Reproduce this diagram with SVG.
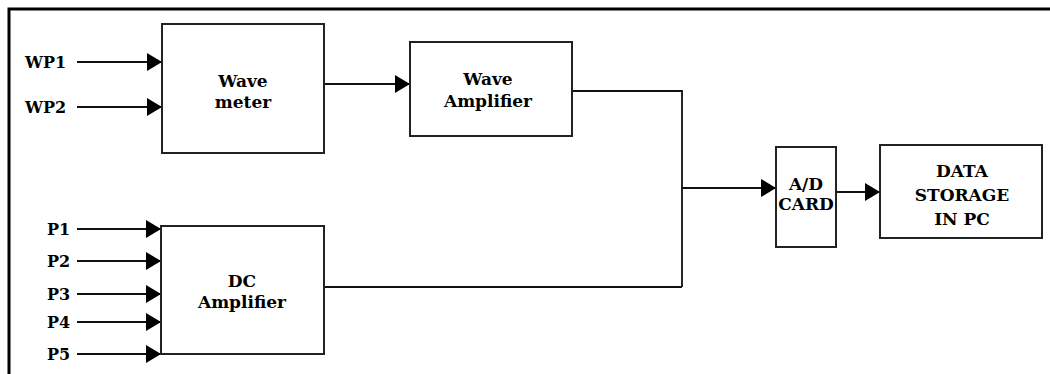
<svg xmlns="http://www.w3.org/2000/svg" width="1050" height="374" viewBox="0 0 1050 374">
<style>
.box{fill:#fff;stroke:#222;stroke-width:2}
.ln{fill:none;stroke:#111;stroke-width:1.8}
.t{font-family:"DejaVu Serif","Liberation Serif",serif;font-weight:bold;font-size:17px;fill:#000;text-anchor:middle}
.lb{font-family:"DejaVu Serif","Liberation Serif",serif;font-weight:bold;font-size:16px;fill:#000}
</style>
<defs>
<marker id="ah" markerUnits="userSpaceOnUse" markerWidth="15" markerHeight="18" refX="15" refY="9" orient="auto">
<path d="M0,0 L15,9 L0,18 z" fill="#000"/>
</marker>
</defs>
<rect width="1050" height="374" fill="#fff"/>
<path d="M1050,9 H9 V374" fill="none" stroke="#000" stroke-width="3"/>
<g id="connectors">
<line class="ln" x1="77" y1="62" x2="162" y2="62" marker-end="url(#ah)"/>
<line class="ln" x1="77" y1="107" x2="162" y2="107" marker-end="url(#ah)"/>
<line class="ln" x1="77" y1="229" x2="161" y2="229" marker-end="url(#ah)"/>
<line class="ln" x1="77" y1="261" x2="161" y2="261" marker-end="url(#ah)"/>
<line class="ln" x1="77" y1="294" x2="161" y2="294" marker-end="url(#ah)"/>
<line class="ln" x1="77" y1="322" x2="161" y2="322" marker-end="url(#ah)"/>
<line class="ln" x1="77" y1="354" x2="161" y2="354" marker-end="url(#ah)"/>
<line class="ln" x1="324" y1="84" x2="410" y2="84" marker-end="url(#ah)"/>
<polyline class="ln" points="572,91 682,91 682,287"/>
<polyline class="ln" points="324,287 682,287"/>
<line class="ln" x1="682" y1="188" x2="776" y2="188" marker-end="url(#ah)"/>
<line class="ln" x1="836" y1="192" x2="880" y2="192" marker-end="url(#ah)"/>
</g>
<g id="labels">
<text class="lb" x="25" y="68">WP1</text>
<text class="lb" x="25" y="113">WP2</text>
<text class="lb" x="47" y="235">P1</text>
<text class="lb" x="47" y="267">P2</text>
<text class="lb" x="47" y="300">P3</text>
<text class="lb" x="47" y="328">P4</text>
<text class="lb" x="47" y="360">P5</text>
</g>
<g id="wave-meter">
<rect class="box" x="162" y="24" width="162" height="129"/>
<text class="t" x="243" y="87">Wave</text>
<text class="t" x="243" y="108">meter</text>
</g>
<g id="wave-amplifier">
<rect class="box" x="410" y="42" width="162" height="94"/>
<text class="t" x="488" y="85">Wave</text>
<text class="t" x="488" y="107">Amplifier</text>
</g>
<g id="dc-amplifier">
<rect class="box" x="161" y="226" width="163" height="128"/>
<text class="t" x="242" y="287">DC</text>
<text class="t" x="242" y="308">Amplifier</text>
</g>
<g id="ad-card">
<rect class="box" x="776" y="147" width="60" height="100"/>
<text class="t" x="806" y="190">A/D</text>
<text class="t" x="806" y="210">CARD</text>
</g>
<g id="data-storage">
<rect class="box" x="880" y="145" width="162" height="93"/>
<text class="t" x="962" y="177">DATA</text>
<text class="t" x="962" y="201">STORAGE</text>
<text class="t" x="962" y="225">IN PC</text>
</g>
</svg>
